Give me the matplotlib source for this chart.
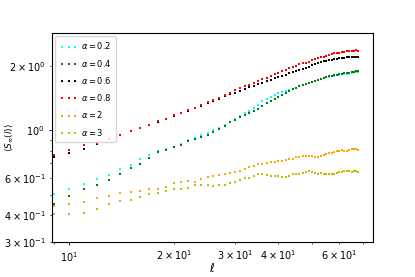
import numpy as np
import matplotlib
matplotlib.use("Agg")
import matplotlib.pyplot as plt

ell = list(range(9, 69))

s_a02 = [0.505, 0.529, 0.561, 0.594, 0.620, 0.662, 0.691, 0.737, 0.768, 0.796,
         0.815, 0.837, 0.864, 0.903, 0.924, 0.947, 0.975, 1.000, 1.025, 1.059,
         1.093, 1.134, 1.167, 1.205, 1.231, 1.272, 1.316, 1.363, 1.401, 1.432,
         1.458, 1.494, 1.502, 1.518, 1.539, 1.561, 1.583, 1.604, 1.627, 1.649,
         1.667, 1.685, 1.703, 1.720, 1.739, 1.752, 1.767, 1.780, 1.789, 1.801,
         1.811, 1.819, 1.829, 1.837, 1.842, 1.849, 1.855, 1.863, 1.869, 1.873]

s_a04 = [0.452, 0.495, 0.533, 0.557, 0.583, 0.624, 0.666, 0.698, 0.742, 0.793,
         0.810, 0.833, 0.857, 0.886, 0.911, 0.930, 0.955, 0.979, 1.011, 1.050,
         1.088, 1.121, 1.150, 1.183, 1.205, 1.234, 1.254, 1.302, 1.341, 1.374,
         1.403, 1.438, 1.469, 1.498, 1.522, 1.556, 1.579, 1.604, 1.627, 1.651,
         1.671, 1.689, 1.707, 1.723, 1.742, 1.755, 1.770, 1.786, 1.797, 1.809,
         1.821, 1.829, 1.837, 1.845, 1.851, 1.859, 1.869, 1.877, 1.885, 1.895]

s_a06 = [0.750, 0.783, 0.815, 0.862, 0.908, 0.947, 0.989, 1.026, 1.058, 1.096,
         1.126, 1.169, 1.204, 1.235, 1.264, 1.302, 1.338, 1.370, 1.400, 1.443,
         1.474, 1.500, 1.531, 1.560, 1.587, 1.615, 1.643, 1.671, 1.700, 1.725,
         1.755, 1.772, 1.800, 1.821, 1.849, 1.873, 1.897, 1.920, 1.941, 1.960,
         1.981, 2.009, 2.033, 2.057, 2.082, 2.097, 2.113, 2.127, 2.138, 2.152,
         2.164, 2.171, 2.178, 2.185, 2.192, 2.195, 2.197, 2.197, 2.199, 2.197]

s_a08 = [0.768, 0.810, 0.851, 0.876, 0.914, 0.954, 0.992, 1.030, 1.061, 1.099,
         1.129, 1.175, 1.210, 1.243, 1.272, 1.312, 1.349, 1.382, 1.416, 1.465,
         1.500, 1.536, 1.571, 1.604, 1.635, 1.667, 1.702, 1.731, 1.754, 1.789,
         1.823, 1.855, 1.885, 1.918, 1.945, 1.977, 2.006, 2.030, 2.054, 2.070,
         2.090, 2.124, 2.154, 2.173, 2.192, 2.211, 2.235, 2.252, 2.269, 2.286,
         2.298, 2.308, 2.321, 2.331, 2.338, 2.343, 2.351, 2.358, 2.361, 2.356]

s_a2 = [0.4418, 0.4514, 0.4637, 0.4804, 0.4925, 0.5082, 0.5126, 0.5210, 0.5306, 0.5323,
        0.5450, 0.5667, 0.5752, 0.5802, 0.5740, 0.5916, 0.6058, 0.6137, 0.6190, 0.6277,
        0.6303, 0.6385, 0.6448, 0.6582, 0.6711, 0.6820, 0.6931, 0.6953, 0.7067, 0.7082,
        0.7105, 0.7159, 0.7206, 0.7252, 0.7315, 0.7355, 0.7459, 0.7490, 0.7555, 0.7604,
        0.7620, 0.7604, 0.7514, 0.7507, 0.7596, 0.7678, 0.7778, 0.7837, 0.7854, 0.7889,
        0.7957, 0.8035, 0.8052, 0.8026, 0.8026, 0.8060, 0.8139, 0.8182, 0.8148, 0.8097]

s_a3 = [0.4044, 0.4044, 0.4088, 0.4281, 0.4503, 0.4667, 0.4718, 0.4899, 0.5038, 0.5087,
        0.5181, 0.5294, 0.5334, 0.5391, 0.5568, 0.5568, 0.5538, 0.5485, 0.5538, 0.5574,
        0.5677, 0.5757, 0.5876, 0.5959, 0.5991, 0.6089, 0.6223, 0.6236, 0.6170, 0.6124,
        0.6117, 0.6089, 0.6039, 0.6065, 0.6143, 0.6216, 0.6230, 0.6250, 0.6339, 0.6393,
        0.6421, 0.6414, 0.6325, 0.6223, 0.6290, 0.6223, 0.6223, 0.6243, 0.6257, 0.6278,
        0.6325, 0.6386, 0.6414, 0.6428, 0.6442, 0.6448, 0.6393, 0.6455, 0.6469, 0.6378]

labels = [r'$\alpha=0.2$', r'$\alpha=0.4$', r'$\alpha=0.6$', r'$\alpha=0.8$',
          r'$\alpha=2$', r'$\alpha=3$']
colors = ['cyan', 'green', 'black', 'red', 'orange', 'y']
series = [s_a02, s_a04, s_a06, s_a08, s_a2, s_a3]

plt.rcParams['font.size'] = 7

fig = plt.figure(figsize=(4.15, 2.77), dpi=100)
ax = fig.add_axes([0.125, 0.126, 0.774, 0.755])

for s, c, lab in zip(series, colors, labels):
    ax.plot(ell, s, linestyle='none', marker='s', markersize=1.5,
            markeredgewidth=0, color=c, label=lab)

ax.set_xscale('log')
ax.set_yscale('log')
ax.set_xlim(8.9, 75)
ax.set_ylim(0.3, 2.85)
ax.tick_params(which='major', length=2.5, width=0.6, labelsize=7, pad=3)
ax.tick_params(which='minor', length=1.5, width=0.5, labelsize=7, pad=3)

ax.set_xlabel(r'$\ell$', fontsize=8.5)
ax.xaxis.set_label_coords(0.5, -0.095)
ax.set_ylabel(r'$\langle S_\infty(l)\rangle$', fontsize=6.5)
ax.yaxis.set_label_coords(-0.115, 0.5)

ax.legend(loc='upper left', numpoints=3, markerscale=1.4, fontsize=6,
          handlelength=2.2, handletextpad=0.4, labelspacing=0.75,
          borderpad=0.5, borderaxespad=0.4)

fig.savefig('out.png', dpi=100)
